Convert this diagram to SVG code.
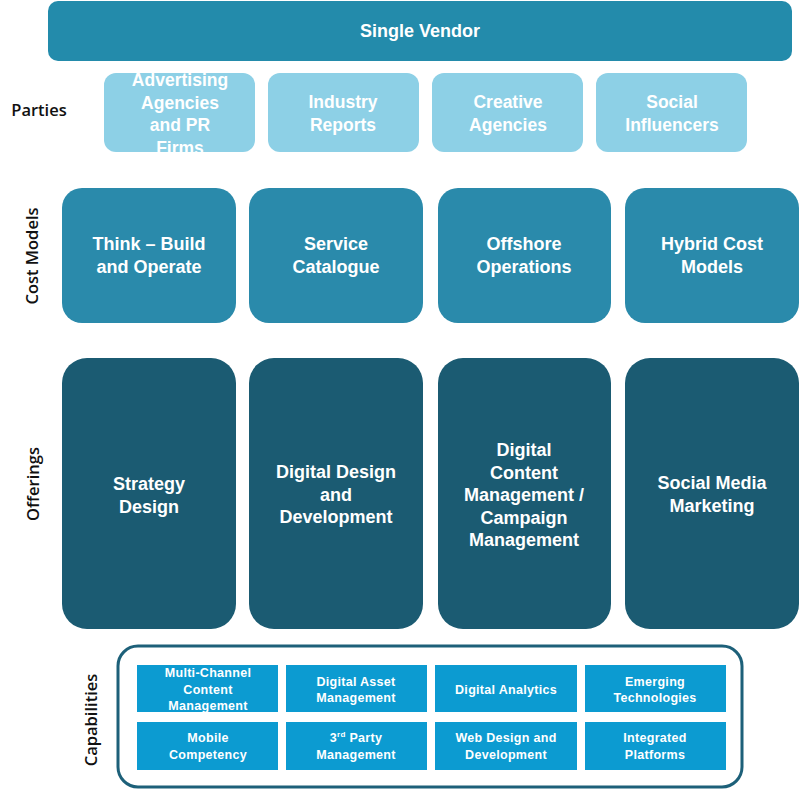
<svg xmlns="http://www.w3.org/2000/svg" width="800" height="791" viewBox="0 0 800 791">
<style>
text{font-family:"Liberation Sans",Arial,sans-serif;fill:#fff;text-anchor:middle;dominant-baseline:central}
.n{font-weight:bold;font-size:18px}
.p{font-weight:bold;font-size:17.5px}
.c{font-weight:bold;font-size:12.5px;letter-spacing:0.3px}
.lab{font-family:"Open Sans","Liberation Sans",sans-serif;font-weight:600;fill:#111;font-size:16.5px}
.vendor{fill:#238bab}
.party{fill:#8dd0e6}
.cost{fill:#2a8aab}
.off{fill:#1b5b72}
.cap{fill:#0c9bd1}
</style>
<rect width="800" height="791" fill="#fff"/>
<g id="vendor"><rect class="vendor" x="48" y="1" width="744" height="60" rx="10"/><text class="n" x="420" y="31">Single Vendor</text></g>
<text class="lab" x="39" y="109">Parties</text>
<text class="lab" transform="translate(31,256) rotate(-90)">Cost Models</text>
<text class="lab" transform="translate(32,484) rotate(-90)">Offerings</text>
<text class="lab" transform="translate(90,720) rotate(-90)">Capabilities</text>
<g id="party1"><rect class="party" x="104" y="73" width="151" height="79" rx="12"/><text class="p" x="180" y="80">Advertising</text><text class="p" x="180" y="103">Agencies</text><text class="p" x="180" y="125">and PR</text><text class="p" x="180" y="148">Firms</text></g>
<g id="party2"><rect class="party" x="268" y="73" width="151" height="79" rx="12"/><text class="p" x="343" y="102">Industry</text><text class="p" x="343" y="125">Reports</text></g>
<g id="party3"><rect class="party" x="432" y="73" width="151" height="79" rx="12"/><text class="p" x="508" y="102">Creative</text><text class="p" x="508" y="125">Agencies</text></g>
<g id="party4"><rect class="party" x="596" y="73" width="151" height="79" rx="12"/><text class="p" x="672" y="102">Social</text><text class="p" x="672" y="125">Influencers</text></g>
<g id="cost1"><rect class="cost" x="62" y="188" width="174" height="135" rx="20"/><text class="n" x="149" y="244">Think – Build</text><text class="n" x="149" y="267">and Operate</text></g>
<g id="cost2"><rect class="cost" x="249" y="188" width="174" height="135" rx="20"/><text class="n" x="336" y="244">Service</text><text class="n" x="336" y="267">Catalogue</text></g>
<g id="cost3"><rect class="cost" x="438" y="188" width="173" height="135" rx="20"/><text class="n" x="524" y="244">Offshore</text><text class="n" x="524" y="267">Operations</text></g>
<g id="cost4"><rect class="cost" x="625" y="188" width="174" height="135" rx="20"/><text class="n" x="712" y="244">Hybrid Cost</text><text class="n" x="712" y="267">Models</text></g>
<g id="off1"><rect class="off" x="62" y="358" width="174" height="271" rx="25"/><text class="n" x="149" y="484">Strategy</text><text class="n" x="149" y="507">Design</text></g>
<g id="off2"><rect class="off" x="249" y="358" width="174" height="271" rx="25"/><text class="n" x="336" y="472">Digital Design</text><text class="n" x="336" y="495">and</text><text class="n" x="336" y="517">Development</text></g>
<g id="off3"><rect class="off" x="438" y="358" width="173" height="271" rx="25"/><text class="n" x="524" y="450">Digital</text><text class="n" x="524" y="473">Content</text><text class="n" x="524" y="495">Management /</text><text class="n" x="524" y="518">Campaign</text><text class="n" x="524" y="540">Management</text></g>
<g id="off4"><rect class="off" x="625" y="358" width="174" height="271" rx="25"/><text class="n" x="712" y="483">Social Media</text><text class="n" x="712" y="506">Marketing</text></g>
<g id="capabilities"><rect x="118" y="646" width="624" height="141" rx="20" fill="none" stroke="#1d6079" stroke-width="3"/></g>
<g id="cap1"><rect class="cap" x="137" y="665" width="141" height="47"/><text class="c" x="208" y="673">Multi-Channel</text><text class="c" x="208" y="689.5">Content</text><text class="c" x="208" y="706">Management</text></g>
<g id="cap2"><rect class="cap" x="286" y="665" width="141" height="47"/><text class="c" x="356" y="681.5">Digital Asset</text><text class="c" x="356" y="698">Management</text></g>
<g id="cap3"><rect class="cap" x="435" y="665" width="142" height="47"/><text class="c" x="506" y="689.5">Digital Analytics</text></g>
<g id="cap4"><rect class="cap" x="585" y="665" width="141" height="47"/><text class="c" x="655" y="682">Emerging</text><text class="c" x="655" y="698">Technologies</text></g>
<g id="cap5"><rect class="cap" x="137" y="722" width="141" height="48"/><text class="c" x="208" y="738">Mobile</text><text class="c" x="208" y="754.5">Competency</text></g>
<g id="cap6"><rect class="cap" x="286" y="722" width="141" height="48"/><text class="c" x="356" y="738">3<tspan font-size="8" dy="-4">rd</tspan><tspan dy="4"> Party</tspan></text><text class="c" x="356" y="754.5">Management</text></g>
<g id="cap7"><rect class="cap" x="435" y="722" width="142" height="48"/><text class="c" x="506" y="738">Web Design and</text><text class="c" x="506" y="754.5">Development</text></g>
<g id="cap8"><rect class="cap" x="585" y="722" width="141" height="48"/><text class="c" x="655" y="738">Integrated</text><text class="c" x="655" y="754.5">Platforms</text></g>
<g id="connectors"/>
</svg>
